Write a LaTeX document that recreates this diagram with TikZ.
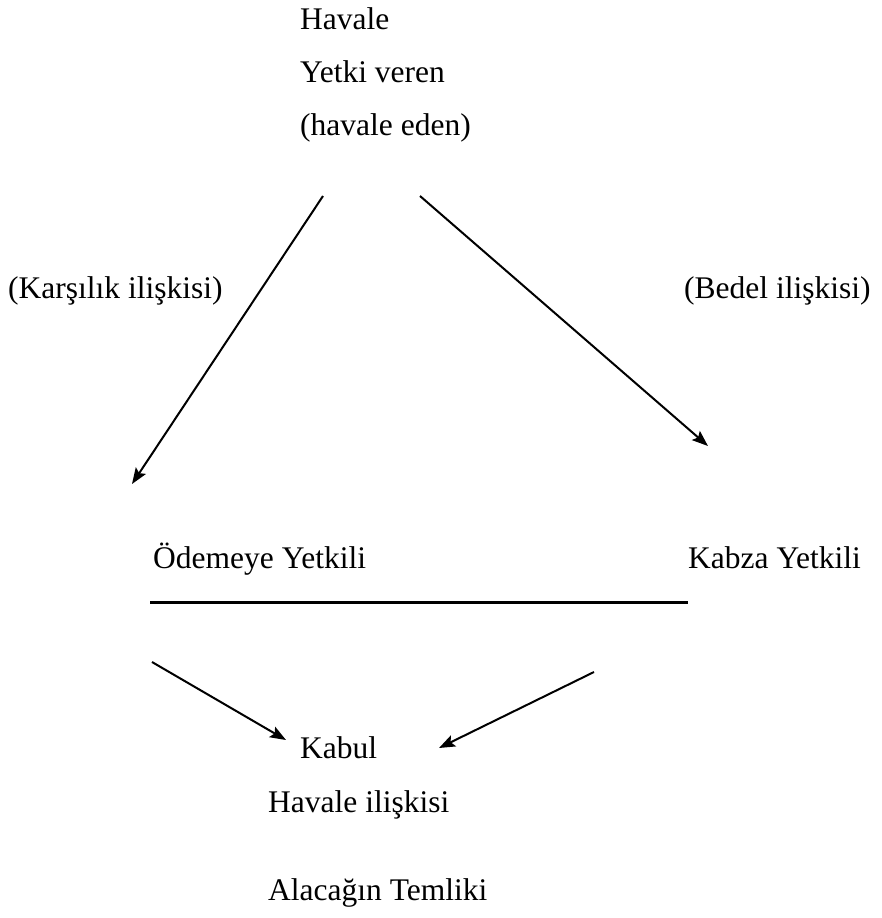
\documentclass[tikz,border=0pt]{standalone}
\usepackage{fontspec}
\setmainfont{Liberation Serif}
\usetikzlibrary{arrows.meta}
\begin{document}
\begin{tikzpicture}[x=1pt,y=-1pt,
  lbl/.style={anchor=base west,inner sep=0pt,font=\fontsize{31.5}{38}\selectfont},
  conn/.style={line width=2pt,-{Stealth[length=16pt,width=12pt,inset=3pt]}},
  bar/.style={line width=3pt}]
\useasboundingbox (0,0) rectangle (882,918);
\node[lbl] (t1) at (300,29) {Havale};
\node[lbl] (t2) at (300,82) {Yetki veren};
\node[lbl] (t3) at (300,135) {(havale eden)};
\node[lbl] (kars) at (8,298) {(Karşılık ilişkisi)};
\node[lbl] (bed) at (684,298) {(Bedel ilişkisi)};
\node[lbl] (ode) at (153,568) {Ödemeye Yetkili};
\node[lbl] (kab) at (688,568) {Kabza Yetkili};
\node[lbl] (kabul) at (300,758) {Kabul};
\node[lbl] (hav) at (268,812) {Havale ilişkisi};
\node[lbl] (ala) at (268,900) {Alacağın Temliki};
\coordinate (a1s) at (323,196);
\coordinate (a1e) at (132,484);
\coordinate (a2s) at (420,196);
\coordinate (a2e) at (708,446);
\coordinate (ls) at (150,602);
\coordinate (le) at (688,602);
\coordinate (a3s) at (152,662);
\coordinate (a3e) at (286,740);
\coordinate (a4s) at (594,672);
\coordinate (a4e) at (439,748);
\draw[conn] (a1s) -- (a1e);
\draw[conn] (a2s) -- (a2e);
\draw[bar] (ls) -- (le);
\draw[conn] (a3s) -- (a3e);
\draw[conn] (a4s) -- (a4e);
\end{tikzpicture}
\end{document}
